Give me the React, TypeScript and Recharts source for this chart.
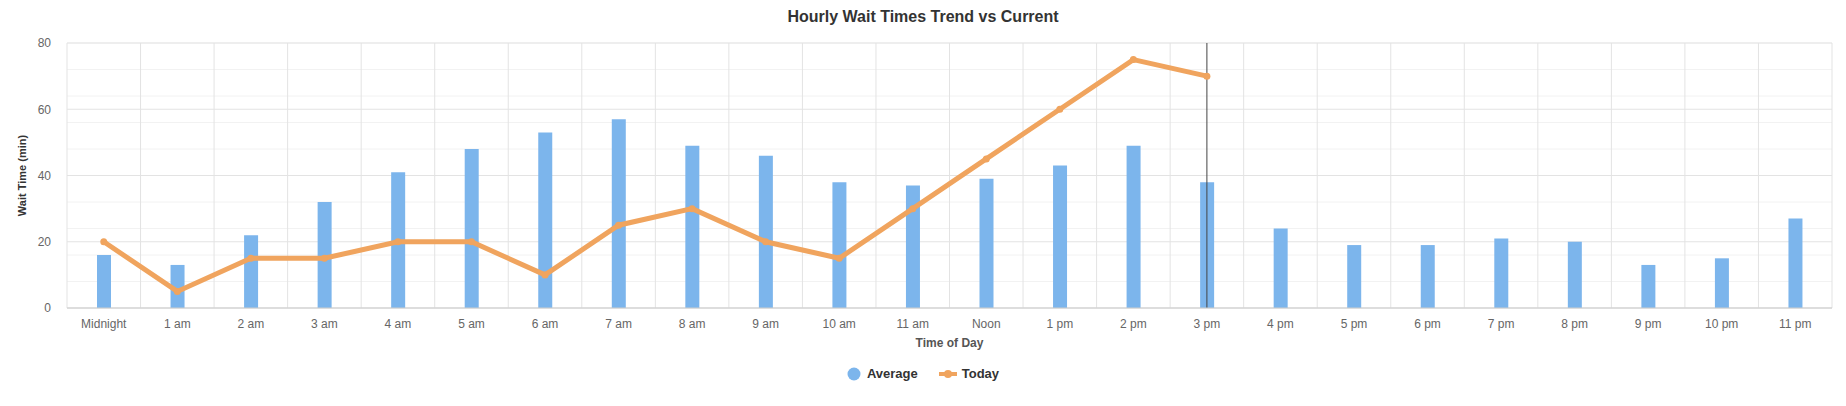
import React from 'react';
import {
  ComposedChart, Bar, Line, XAxis, YAxis, CartesianGrid, ReferenceLine,
} from 'recharts';

const hours = ['Midnight', '1 am', '2 am', '3 am', '4 am', '5 am', '6 am', '7 am', '8 am', '9 am', '10 am', '11 am',
  'Noon', '1 pm', '2 pm', '3 pm', '4 pm', '5 pm', '6 pm', '7 pm', '8 pm', '9 pm', '10 pm', '11 pm'];
const average = [16, 13, 22, 32, 41, 48, 53, 57, 49, 46, 38, 37, 39, 43, 49, 38, 24, 19, 19, 21, 20, 13, 15, 27];
const today: (number | null)[] = [20, 5, 15, 15, 20, 20, 10, 25, 30, 20, 15, 30, 45, 60, 75, 70,
  null, null, null, null, null, null, null, null];
const yTicks = [0, 20, 40, 60, 80];
const yMinor = [0, 4, 8, 12, 16, 20, 24, 28, 32, 36, 40, 44, 48, 52, 56, 60, 64, 68, 72, 76, 80];
const boundaryTicks = [0, 1, 2, 3, 4, 5, 6, 7, 8, 9, 10, 11, 12, 13, 14, 15, 16, 17, 18, 19, 20, 21, 22, 23, 24];
const currentHour = '3 pm';

const AVG_COLOR = '#7cb5ec';
const TODAY_COLOR = '#f0a45e';
const FONT = 'Arial, "Liberation Sans", sans-serif';

const data = hours.map((h, i) => ({ hour: h, pos: i + 0.5, average: average[i], today: today[i] }));

export default function App() {
  return (
    <div style={{ position: 'absolute', left: 0, top: 0, width: 1846, height: 406, fontFamily: FONT, background: '#fff' }}>
      <div style={{ position: 'absolute', top: 8, left: 0, width: 1846, textAlign: 'center', fontSize: 16, fontWeight: 'bold', color: '#333' }}>
        Hourly Wait Times Trend vs Current
      </div>
      <ComposedChart width={1846} height={406} data={data} margin={{ top: 43, right: 14, bottom: 48, left: 0 }}>
        <CartesianGrid yAxisId="y" xAxisId="grid" vertical={false} horizontalValues={yMinor} stroke="#f2f2f2" />
        <CartesianGrid yAxisId="y" xAxisId="grid" stroke="#e3e3e3" horizontalValues={yTicks} />
        <XAxis xAxisId="grid" dataKey="pos" type="number" domain={[0, 24]} ticks={boundaryTicks} allowDataOverflow interval={0}
          height={0} tick={() => <g />} tickSize={10} tickLine={{ stroke: '#ccc' }} axisLine={false} />
        <XAxis xAxisId="cat" dataKey="hour" height={50} tickLine={false} axisLine={{ stroke: '#ccc' }}
          tick={{ fill: '#666', fontSize: 12, fontFamily: FONT }} tickMargin={5} interval={0}
          label={({ viewBox }: any) => (
            <text x={viewBox.x + viewBox.width / 2} y={viewBox.y + 39} textAnchor="middle" fontSize={12} fontWeight="bold" fill="#555" fontFamily={FONT}>
              Time of Day
            </text>
          )} />
        <YAxis yAxisId="y" width={67} domain={[0, 80]} ticks={yTicks} tickLine={false} axisLine={false}
          tick={{ fill: '#666', fontSize: 12, fontFamily: FONT }} tickMargin={10}
          label={({ viewBox }: any) => (
            <text x={22} y={viewBox.y + viewBox.height / 2} transform={`rotate(-90 22 ${viewBox.y + viewBox.height / 2})`}
              textAnchor="middle" dominantBaseline="central" fontSize={11} fontWeight="bold" fill="#333" fontFamily={FONT}>
              Wait Time (min)
            </text>
          )} />
        <Bar xAxisId="cat" yAxisId="y" dataKey="average" name="Average" fill={AVG_COLOR} barSize={14} isAnimationActive={false} />
        <ReferenceLine xAxisId="cat" yAxisId="y" x={currentHour} stroke="#444" strokeWidth={1} />
        <Line xAxisId="cat" yAxisId="y" dataKey="today" name="Today" stroke={TODAY_COLOR} strokeWidth={5}
          dot={{ r: 3.5, fill: TODAY_COLOR, stroke: TODAY_COLOR, strokeWidth: 0 }} activeDot={false} isAnimationActive={false} connectNulls={false} />
      </ComposedChart>
      <div style={{ position: 'absolute', top: 366, left: 0, width: 1846, display: 'flex', justifyContent: 'center', alignItems: 'center', fontSize: 13, fontWeight: 'bold', color: '#333' }}>
        <span style={{ display: 'inline-flex', alignItems: 'center', marginRight: 20 }}>
          <svg width={14} height={14} style={{ marginRight: 6 }}><circle cx={7} cy={7} r={6.5} fill={AVG_COLOR} /></svg>
          Average
        </span>
        <span style={{ display: 'inline-flex', alignItems: 'center' }}>
          <svg width={20} height={12} style={{ marginRight: 4 }}>
            <line x1={1} y1={6} x2={19} y2={6} stroke={TODAY_COLOR} strokeWidth={4} />
            <circle cx={10} cy={6} r={4} fill={TODAY_COLOR} />
          </svg>
          Today
        </span>
      </div>
    </div>
  );
}
